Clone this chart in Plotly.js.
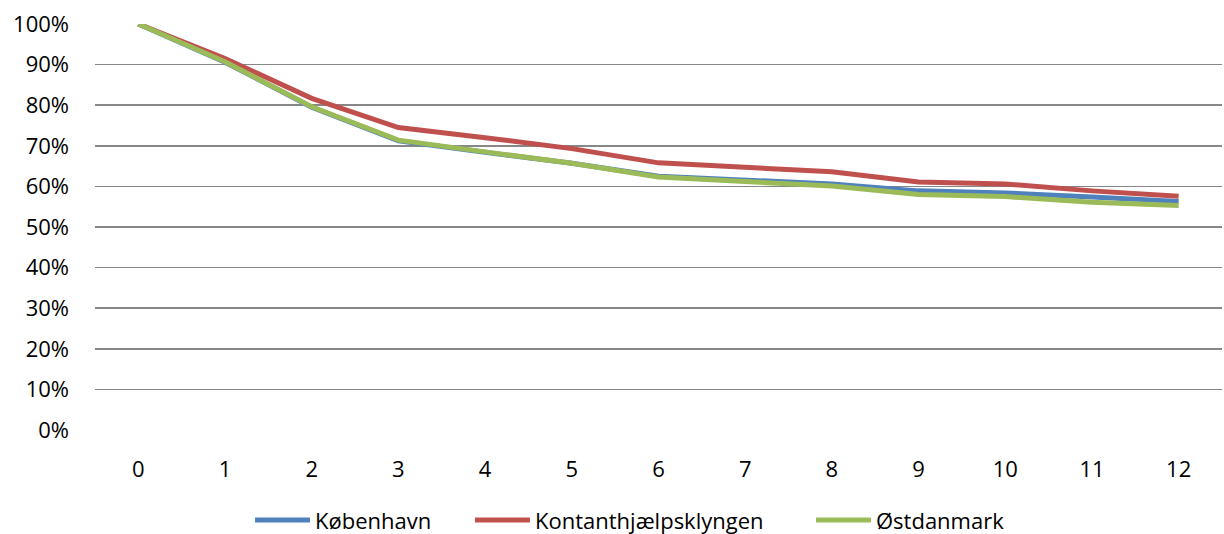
<!DOCTYPE html>
<html>
<head>
<meta charset="utf-8">
<script src="https://cdn.plot.ly/plotly-3.0.1.min.js"></script>
<style>html,body{margin:0;padding:0;background:#fff;}#chart{width:1224px;height:534px;}</style>
</head>
<body>
<div id="chart"></div>
<script>
const categories = ["0","1","2","3","4","5","6","7","8","9","10","11","12"];
const seriesNames = ["København", "Kontanthjælpsklyngen", "Østdanmark"];
const kobenhavn = [1.000, 0.906, 0.795, 0.712, 0.684, 0.657, 0.625, 0.616, 0.606, 0.589, 0.584, 0.574, 0.563];
const kontant = [1.000, 0.915, 0.817, 0.745, 0.720, 0.693, 0.658, 0.646, 0.636, 0.611, 0.606, 0.589, 0.576];
const ostdanmark = [1.000, 0.907, 0.796, 0.714, 0.685, 0.657, 0.623, 0.613, 0.601, 0.580, 0.575, 0.561, 0.553];
const yTicks = [0, 0.1, 0.2, 0.3, 0.4, 0.5, 0.6, 0.7, 0.8, 0.9, 1.0];
const yTickText = ["0%", "10%", "20%", "30%", "40%", "50%", "60%", "70%", "80%", "90%", "100%"];
const colors = ["#4F81BD", "#C0504D", "#9BBB59"];

const xs = categories.map((c, i) => i);
const legendIds = ["legend", "legend2", "legend3"];
const traces = [kobenhavn, kontant, ostdanmark].map((vals, i) => ({
  x: xs, y: vals, type: "scatter", mode: "lines", name: seriesNames[i],
  legend: legendIds[i],
  line: {color: colors[i], width: 5}
}));

const plotL = 95, plotW = 1224 - 95 - 2;
const legendStarts = [255, 475, 816];
function legendAt(px) {
  return {orientation: "h", x: (px - 5 - plotL) / plotW, xanchor: "left", y: -0.222, yanchor: "middle",
          font: {size: 22}, itemwidth: 55, bgcolor: "rgba(0,0,0,0)", borderwidth: 0};
}

const layout = {
  width: 1224, height: 534,
  margin: {l: 95, r: 2, t: 24, b: 104, autoexpand: false},
  paper_bgcolor: "#fff", plot_bgcolor: "#fff",
  font: {family: "Open Sans, Liberation Sans, sans-serif", size: 22, color: "#000"},
  showlegend: true,
  legend: legendAt(legendStarts[0]),
  legend2: legendAt(legendStarts[1]),
  legend3: legendAt(legendStarts[2]),
  xaxis: {range: [-0.5, 12.5], tickmode: "array", tickvals: xs, ticktext: categories,
          showgrid: false, zeroline: false, showline: false, ticks: "", ticklabelstandoff: 24,
          fixedrange: true},
  yaxis: {range: [0, 1.0], tickmode: "array", tickvals: yTicks, ticktext: yTickText,
          showgrid: true, gridcolor: "#878787", gridwidth: 1.5, zeroline: false, showline: false,
          ticks: "", ticklabelstandoff: 25, fixedrange: true}
};
Plotly.newPlot("chart", traces, layout, {staticPlot: true, displayModeBar: false});
</script>
</body>
</html>
